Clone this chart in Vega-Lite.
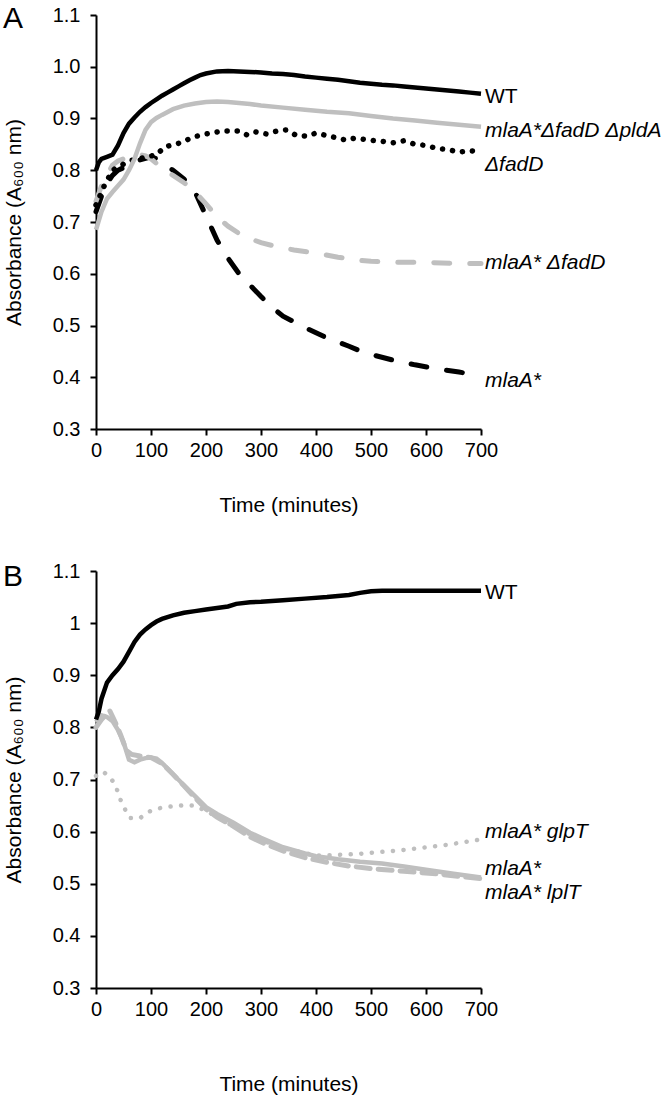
{
  "$schema": "https://vega.github.io/schema/vega-lite/v6.json",
  "padding": {"left": 3, "top": 4, "right": 5, "bottom": 2},
  "spacing": 46,
  "config": {
    "font": "Liberation Sans",
    "view": {"stroke": null},
    "axis": {"grid": false, "domainColor": "#000", "domainWidth": 2, "tickColor": "#000", "tickWidth": 2, "tickSize": 6, "labelColor": "#000", "labelFontSize": 20, "titleColor": "#000", "titleFontSize": 21, "titleFontWeight": "normal", "labelFlush": false, "labelOverlap": false},
    "axisX": {"labelPadding": 5},
    "axisY": {"labelPadding": 10},
    "title": {"color": "#000"}
  },
  "datasets": {
    "A": [
      {"s":"WT","t":0,"a":0.800},{"s":"WT","t":5,"a":0.815},{"s":"WT","t":10,"a":0.822},{"s":"WT","t":20,"a":0.826},{"s":"WT","t":30,"a":0.830},{"s":"WT","t":40,"a":0.848},{"s":"WT","t":50,"a":0.872},{"s":"WT","t":60,"a":0.890},{"s":"WT","t":70,"a":0.902},{"s":"WT","t":80,"a":0.913},{"s":"WT","t":90,"a":0.922},{"s":"WT","t":100,"a":0.930},{"s":"WT","t":110,"a":0.937},{"s":"WT","t":120,"a":0.944},{"s":"WT","t":130,"a":0.950},{"s":"WT","t":140,"a":0.956},{"s":"WT","t":150,"a":0.962},{"s":"WT","t":160,"a":0.968},{"s":"WT","t":170,"a":0.974},{"s":"WT","t":180,"a":0.979},{"s":"WT","t":190,"a":0.984},{"s":"WT","t":200,"a":0.987},{"s":"WT","t":220,"a":0.991},{"s":"WT","t":240,"a":0.992},{"s":"WT","t":260,"a":0.991},{"s":"WT","t":280,"a":0.990},{"s":"WT","t":300,"a":0.989},{"s":"WT","t":320,"a":0.987},{"s":"WT","t":340,"a":0.986},{"s":"WT","t":360,"a":0.984},{"s":"WT","t":380,"a":0.981},{"s":"WT","t":400,"a":0.979},{"s":"WT","t":420,"a":0.977},{"s":"WT","t":440,"a":0.975},{"s":"WT","t":460,"a":0.972},{"s":"WT","t":480,"a":0.969},{"s":"WT","t":500,"a":0.967},{"s":"WT","t":520,"a":0.965},{"s":"WT","t":540,"a":0.964},{"s":"WT","t":560,"a":0.962},{"s":"WT","t":580,"a":0.960},{"s":"WT","t":600,"a":0.958},{"s":"WT","t":620,"a":0.956},{"s":"WT","t":640,"a":0.954},{"s":"WT","t":660,"a":0.952},{"s":"WT","t":680,"a":0.950},{"s":"WT","t":700,"a":0.948},
      {"s":"triple","t":0,"a":0.685},{"s":"triple","t":10,"a":0.720},{"s":"triple","t":20,"a":0.745},{"s":"triple","t":30,"a":0.758},{"s":"triple","t":40,"a":0.770},{"s":"triple","t":50,"a":0.782},{"s":"triple","t":60,"a":0.800},{"s":"triple","t":70,"a":0.822},{"s":"triple","t":80,"a":0.852},{"s":"triple","t":90,"a":0.878},{"s":"triple","t":100,"a":0.893},{"s":"triple","t":110,"a":0.901},{"s":"triple","t":120,"a":0.907},{"s":"triple","t":140,"a":0.918},{"s":"triple","t":160,"a":0.925},{"s":"triple","t":180,"a":0.929},{"s":"triple","t":200,"a":0.932},{"s":"triple","t":220,"a":0.933},{"s":"triple","t":240,"a":0.932},{"s":"triple","t":260,"a":0.930},{"s":"triple","t":280,"a":0.928},{"s":"triple","t":300,"a":0.925},{"s":"triple","t":340,"a":0.921},{"s":"triple","t":380,"a":0.917},{"s":"triple","t":420,"a":0.913},{"s":"triple","t":460,"a":0.910},{"s":"triple","t":500,"a":0.905},{"s":"triple","t":540,"a":0.900},{"s":"triple","t":580,"a":0.896},{"s":"triple","t":620,"a":0.892},{"s":"triple","t":660,"a":0.888},{"s":"triple","t":700,"a":0.884},
      {"s":"fadD","t":0,"a":0.733},{"s":"fadD","t":15,"a":0.770},{"s":"fadD","t":30,"a":0.800},{"s":"fadD","t":60,"a":0.818},{"s":"fadD","t":90,"a":0.825},{"s":"fadD","t":110,"a":0.830},{"s":"fadD","t":125,"a":0.845},{"s":"fadD","t":150,"a":0.852},{"s":"fadD","t":180,"a":0.865},{"s":"fadD","t":200,"a":0.870},{"s":"fadD","t":230,"a":0.876},{"s":"fadD","t":258,"a":0.876},{"s":"fadD","t":275,"a":0.868},{"s":"fadD","t":290,"a":0.874},{"s":"fadD","t":310,"a":0.870},{"s":"fadD","t":330,"a":0.876},{"s":"fadD","t":345,"a":0.878},{"s":"fadD","t":365,"a":0.867},{"s":"fadD","t":385,"a":0.866},{"s":"fadD","t":400,"a":0.872},{"s":"fadD","t":420,"a":0.867},{"s":"fadD","t":440,"a":0.862},{"s":"fadD","t":455,"a":0.858},{"s":"fadD","t":470,"a":0.862},{"s":"fadD","t":500,"a":0.858},{"s":"fadD","t":520,"a":0.856},{"s":"fadD","t":540,"a":0.853},{"s":"fadD","t":560,"a":0.857},{"s":"fadD","t":580,"a":0.850},{"s":"fadD","t":600,"a":0.848},{"s":"fadD","t":620,"a":0.842},{"s":"fadD","t":640,"a":0.840},{"s":"fadD","t":660,"a":0.835},{"s":"fadD","t":680,"a":0.838},{"s":"fadD","t":700,"a":0.835},
      {"s":"mlaAfadD","t":0,"a":0.740},{"s":"mlaAfadD","t":10,"a":0.770},{"s":"mlaAfadD","t":20,"a":0.790},{"s":"mlaAfadD","t":30,"a":0.810},{"s":"mlaAfadD","t":40,"a":0.818},{"s":"mlaAfadD","t":50,"a":0.822},{"s":"mlaAfadD","t":60,"a":0.826},{"s":"mlaAfadD","t":70,"a":0.828},{"s":"mlaAfadD","t":80,"a":0.830},{"s":"mlaAfadD","t":90,"a":0.828},{"s":"mlaAfadD","t":100,"a":0.822},{"s":"mlaAfadD","t":110,"a":0.813},{"s":"mlaAfadD","t":120,"a":0.804},{"s":"mlaAfadD","t":140,"a":0.790},{"s":"mlaAfadD","t":160,"a":0.776},{"s":"mlaAfadD","t":180,"a":0.758},{"s":"mlaAfadD","t":200,"a":0.735},{"s":"mlaAfadD","t":220,"a":0.710},{"s":"mlaAfadD","t":240,"a":0.692},{"s":"mlaAfadD","t":260,"a":0.678},{"s":"mlaAfadD","t":280,"a":0.668},{"s":"mlaAfadD","t":300,"a":0.660},{"s":"mlaAfadD","t":330,"a":0.652},{"s":"mlaAfadD","t":360,"a":0.646},{"s":"mlaAfadD","t":400,"a":0.640},{"s":"mlaAfadD","t":440,"a":0.632},{"s":"mlaAfadD","t":470,"a":0.627},{"s":"mlaAfadD","t":500,"a":0.624},{"s":"mlaAfadD","t":550,"a":0.622},{"s":"mlaAfadD","t":600,"a":0.622},{"s":"mlaAfadD","t":650,"a":0.620},{"s":"mlaAfadD","t":700,"a":0.620},
      {"s":"mlaA","t":0,"a":0.720},{"s":"mlaA","t":10,"a":0.750},{"s":"mlaA","t":20,"a":0.775},{"s":"mlaA","t":30,"a":0.790},{"s":"mlaA","t":40,"a":0.800},{"s":"mlaA","t":60,"a":0.810},{"s":"mlaA","t":80,"a":0.820},{"s":"mlaA","t":100,"a":0.826},{"s":"mlaA","t":110,"a":0.822},{"s":"mlaA","t":120,"a":0.815},{"s":"mlaA","t":140,"a":0.800},{"s":"mlaA","t":160,"a":0.783},{"s":"mlaA","t":180,"a":0.758},{"s":"mlaA","t":200,"a":0.712},{"s":"mlaA","t":220,"a":0.665},{"s":"mlaA","t":240,"a":0.630},{"s":"mlaA","t":260,"a":0.600},{"s":"mlaA","t":280,"a":0.578},{"s":"mlaA","t":300,"a":0.556},{"s":"mlaA","t":320,"a":0.535},{"s":"mlaA","t":340,"a":0.518},{"s":"mlaA","t":360,"a":0.507},{"s":"mlaA","t":380,"a":0.496},{"s":"mlaA","t":400,"a":0.486},{"s":"mlaA","t":420,"a":0.476},{"s":"mlaA","t":440,"a":0.468},{"s":"mlaA","t":460,"a":0.460},{"s":"mlaA","t":480,"a":0.451},{"s":"mlaA","t":500,"a":0.444},{"s":"mlaA","t":540,"a":0.433},{"s":"mlaA","t":580,"a":0.424},{"s":"mlaA","t":620,"a":0.416},{"s":"mlaA","t":660,"a":0.410},{"s":"mlaA","t":700,"a":0.403}
    ],
    "B": [
      {"s":"WT","t":0,"a":0.815},{"s":"WT","t":5,"a":0.830},{"s":"WT","t":10,"a":0.855},{"s":"WT","t":20,"a":0.886},{"s":"WT","t":30,"a":0.900},{"s":"WT","t":40,"a":0.912},{"s":"WT","t":50,"a":0.926},{"s":"WT","t":60,"a":0.945},{"s":"WT","t":70,"a":0.964},{"s":"WT","t":80,"a":0.978},{"s":"WT","t":90,"a":0.988},{"s":"WT","t":100,"a":0.996},{"s":"WT","t":110,"a":1.003},{"s":"WT","t":120,"a":1.008},{"s":"WT","t":140,"a":1.015},{"s":"WT","t":160,"a":1.020},{"s":"WT","t":180,"a":1.023},{"s":"WT","t":200,"a":1.026},{"s":"WT","t":220,"a":1.029},{"s":"WT","t":240,"a":1.032},{"s":"WT","t":255,"a":1.037},{"s":"WT","t":280,"a":1.040},{"s":"WT","t":300,"a":1.041},{"s":"WT","t":340,"a":1.044},{"s":"WT","t":380,"a":1.047},{"s":"WT","t":420,"a":1.050},{"s":"WT","t":460,"a":1.054},{"s":"WT","t":480,"a":1.058},{"s":"WT","t":500,"a":1.061},{"s":"WT","t":520,"a":1.062},{"s":"WT","t":560,"a":1.062},{"s":"WT","t":600,"a":1.062},{"s":"WT","t":650,"a":1.062},{"s":"WT","t":700,"a":1.062},
      {"s":"mlaA","t":0,"a":0.810},{"s":"mlaA","t":10,"a":0.823},{"s":"mlaA","t":20,"a":0.820},{"s":"mlaA","t":30,"a":0.812},{"s":"mlaA","t":40,"a":0.795},{"s":"mlaA","t":50,"a":0.772},{"s":"mlaA","t":60,"a":0.738},{"s":"mlaA","t":70,"a":0.733},{"s":"mlaA","t":80,"a":0.738},{"s":"mlaA","t":90,"a":0.741},{"s":"mlaA","t":100,"a":0.742},{"s":"mlaA","t":110,"a":0.740},{"s":"mlaA","t":120,"a":0.732},{"s":"mlaA","t":140,"a":0.710},{"s":"mlaA","t":160,"a":0.689},{"s":"mlaA","t":180,"a":0.668},{"s":"mlaA","t":200,"a":0.647},{"s":"mlaA","t":220,"a":0.634},{"s":"mlaA","t":250,"a":0.617},{"s":"mlaA","t":280,"a":0.598},{"s":"mlaA","t":300,"a":0.588},{"s":"mlaA","t":340,"a":0.570},{"s":"mlaA","t":380,"a":0.558},{"s":"mlaA","t":400,"a":0.553},{"s":"mlaA","t":440,"a":0.547},{"s":"mlaA","t":480,"a":0.542},{"s":"mlaA","t":520,"a":0.539},{"s":"mlaA","t":560,"a":0.533},{"s":"mlaA","t":600,"a":0.527},{"s":"mlaA","t":650,"a":0.519},{"s":"mlaA","t":700,"a":0.512},
      {"s":"lplT","t":0,"a":0.800},{"s":"lplT","t":10,"a":0.815},{"s":"lplT","t":25,"a":0.832},{"s":"lplT","t":35,"a":0.810},{"s":"lplT","t":45,"a":0.785},{"s":"lplT","t":55,"a":0.756},{"s":"lplT","t":65,"a":0.748},{"s":"lplT","t":80,"a":0.745},{"s":"lplT","t":100,"a":0.742},{"s":"lplT","t":120,"a":0.731},{"s":"lplT","t":140,"a":0.710},{"s":"lplT","t":160,"a":0.688},{"s":"lplT","t":180,"a":0.665},{"s":"lplT","t":200,"a":0.643},{"s":"lplT","t":220,"a":0.628},{"s":"lplT","t":250,"a":0.610},{"s":"lplT","t":280,"a":0.590},{"s":"lplT","t":300,"a":0.580},{"s":"lplT","t":340,"a":0.563},{"s":"lplT","t":380,"a":0.550},{"s":"lplT","t":420,"a":0.541},{"s":"lplT","t":460,"a":0.534},{"s":"lplT","t":500,"a":0.529},{"s":"lplT","t":560,"a":0.524},{"s":"lplT","t":620,"a":0.519},{"s":"lplT","t":660,"a":0.514},{"s":"lplT","t":700,"a":0.510},
      {"s":"glpT","t":0,"a":0.707},{"s":"glpT","t":13,"a":0.715},{"s":"glpT","t":25,"a":0.705},{"s":"glpT","t":35,"a":0.690},{"s":"glpT","t":45,"a":0.660},{"s":"glpT","t":55,"a":0.638},{"s":"glpT","t":62,"a":0.626},{"s":"glpT","t":80,"a":0.626},{"s":"glpT","t":98,"a":0.639},{"s":"glpT","t":116,"a":0.645},{"s":"glpT","t":134,"a":0.648},{"s":"glpT","t":155,"a":0.650},{"s":"glpT","t":177,"a":0.650},{"s":"glpT","t":200,"a":0.640},{"s":"glpT","t":225,"a":0.625},{"s":"glpT","t":250,"a":0.610},{"s":"glpT","t":280,"a":0.595},{"s":"glpT","t":310,"a":0.580},{"s":"glpT","t":350,"a":0.566},{"s":"glpT","t":400,"a":0.554},{"s":"glpT","t":430,"a":0.555},{"s":"glpT","t":455,"a":0.556},{"s":"glpT","t":475,"a":0.557},{"s":"glpT","t":495,"a":0.559},{"s":"glpT","t":530,"a":0.562},{"s":"glpT","t":560,"a":0.565},{"s":"glpT","t":600,"a":0.570},{"s":"glpT","t":640,"a":0.575},{"s":"glpT","t":670,"a":0.580},{"s":"glpT","t":700,"a":0.585}
    ],
    "LA": [
      {"label":"WT","t":700,"a":0.942,"it":false},
      {"label":"mlaA*ΔfadD ΔpldA","t":700,"a":0.876,"it":true},
      {"label":"ΔfadD","t":700,"a":0.810,"it":true},
      {"label":"mlaA* ΔfadD","t":700,"a":0.621,"it":true},
      {"label":"mlaA*","t":700,"a":0.393,"it":true}
    ],
    "LB": [
      {"label":"WT","t":700,"a":1.058,"it":false},
      {"label":"mlaA* glpT","t":700,"a":0.600,"it":true},
      {"label":"mlaA*","t":700,"a":0.528,"it":true},
      {"label":"mlaA* lplT","t":700,"a":0.482,"it":true}
    ]
  },
  "vconcat": [
    {
      "width": 385, "height": 414,
      "title": {"text": "A", "anchor": "start", "frame": "group", "fontSize": 30, "fontWeight": "normal", "dx": -93, "dy": 43, "offset": -10, "baseline": "alphabetic"},
      "encoding": {
        "x": {"field": "t", "type": "quantitative", "scale": {"domain": [0, 700], "nice": false}, "axis": {"values": [0,100,200,300,400,500,600,700], "title": "Time (minutes)", "titleY": 76, "titleBaseline": "middle"}},
        "y": {"field": "a", "type": "quantitative", "scale": {"domain": [0.3, 1.1], "nice": false, "zero": false}, "axis": {"values": [0.3,0.4,0.5,0.6,0.7,0.8,0.9,1.0,1.1], "format": ".1f", "title": "Absorbance (A₆₀₀ nm)", "titleX": -76, "titleBaseline": "alphabetic"}}
      },
      "layer": [
        {"data": {"name": "A"}, "transform": [{"filter": {"field": "s", "equal": "mlaA"}}], "mark": {"type": "line", "color": "#000", "strokeWidth": 5, "strokeDash": [16, 20], "strokeCap": "round"}, "encoding": {}},
        {"data": {"name": "A"}, "transform": [{"filter": {"field": "s", "equal": "mlaAfadD"}}], "mark": {"type": "line", "color": "#BFBFBF", "strokeWidth": 5, "strokeDash": [16, 20], "strokeCap": "round"}, "encoding": {}},
        {"data": {"name": "A"}, "transform": [{"filter": {"field": "s", "equal": "fadD"}}], "mark": {"type": "line", "color": "#000", "strokeWidth": 5.5, "strokeDash": [0.1, 10], "strokeCap": "round"}, "encoding": {}},
        {"data": {"name": "A"}, "transform": [{"filter": {"field": "s", "equal": "triple"}}], "mark": {"type": "line", "color": "#BFBFBF", "strokeWidth": 4.5}, "encoding": {}},
        {"data": {"name": "A"}, "transform": [{"filter": {"field": "s", "equal": "WT"}}], "mark": {"type": "line", "color": "#000", "strokeWidth": 4.5}, "encoding": {}},
        {"data": {"name": "LA"}, "transform": [{"filter": "!datum.it"}], "mark": {"type": "text", "align": "left", "baseline": "middle", "dx": 4, "fontSize": 21, "color": "#000"}, "encoding": {"text": {"field": "label"}}},
        {"data": {"name": "LA"}, "transform": [{"filter": "datum.it"}], "mark": {"type": "text", "align": "left", "baseline": "middle", "dx": 4, "fontSize": 21, "fontStyle": "italic", "color": "#000"}, "encoding": {"text": {"field": "label"}}}
      ]
    },
    {
      "width": 385, "height": 417,
      "title": {"text": "B", "anchor": "start", "frame": "group", "fontSize": 30, "fontWeight": "normal", "dx": -93, "dy": 45, "offset": -10, "baseline": "alphabetic"},
      "encoding": {
        "x": {"field": "t", "type": "quantitative", "scale": {"domain": [0, 700], "nice": false}, "axis": {"values": [0,100,200,300,400,500,600,700], "title": "Time (minutes)", "titleY": 96, "titleBaseline": "middle"}},
        "y": {"field": "a", "type": "quantitative", "scale": {"domain": [0.3, 1.1], "nice": false, "zero": false}, "axis": {"values": [0.3,0.4,0.5,0.6,0.7,0.8,0.9,1.0,1.1], "format": "~g", "title": "Absorbance (A₆₀₀ nm)", "titleX": -76, "titleBaseline": "alphabetic"}}
      },
      "layer": [
        {"data": {"name": "B"}, "transform": [{"filter": {"field": "s", "equal": "glpT"}}], "mark": {"type": "line", "color": "#BFBFBF", "strokeWidth": 4.5, "strokeDash": [0.1, 10.5], "strokeCap": "round"}, "encoding": {}},
        {"data": {"name": "B"}, "transform": [{"filter": {"field": "s", "equal": "lplT"}}], "mark": {"type": "line", "color": "#BFBFBF", "strokeWidth": 5, "strokeDash": [14, 8], "strokeCap": "round"}, "encoding": {}},
        {"data": {"name": "B"}, "transform": [{"filter": {"field": "s", "equal": "mlaA"}}], "mark": {"type": "line", "color": "#BFBFBF", "strokeWidth": 4.5}, "encoding": {}},
        {"data": {"name": "B"}, "transform": [{"filter": {"field": "s", "equal": "WT"}}], "mark": {"type": "line", "color": "#000", "strokeWidth": 4.5}, "encoding": {}},
        {"data": {"name": "LB"}, "transform": [{"filter": "!datum.it"}], "mark": {"type": "text", "align": "left", "baseline": "middle", "dx": 4, "fontSize": 21, "color": "#000"}, "encoding": {"text": {"field": "label"}}},
        {"data": {"name": "LB"}, "transform": [{"filter": "datum.it"}], "mark": {"type": "text", "align": "left", "baseline": "middle", "dx": 4, "fontSize": 21, "fontStyle": "italic", "color": "#000"}, "encoding": {"text": {"field": "label"}}}
      ]
    }
  ]
}
